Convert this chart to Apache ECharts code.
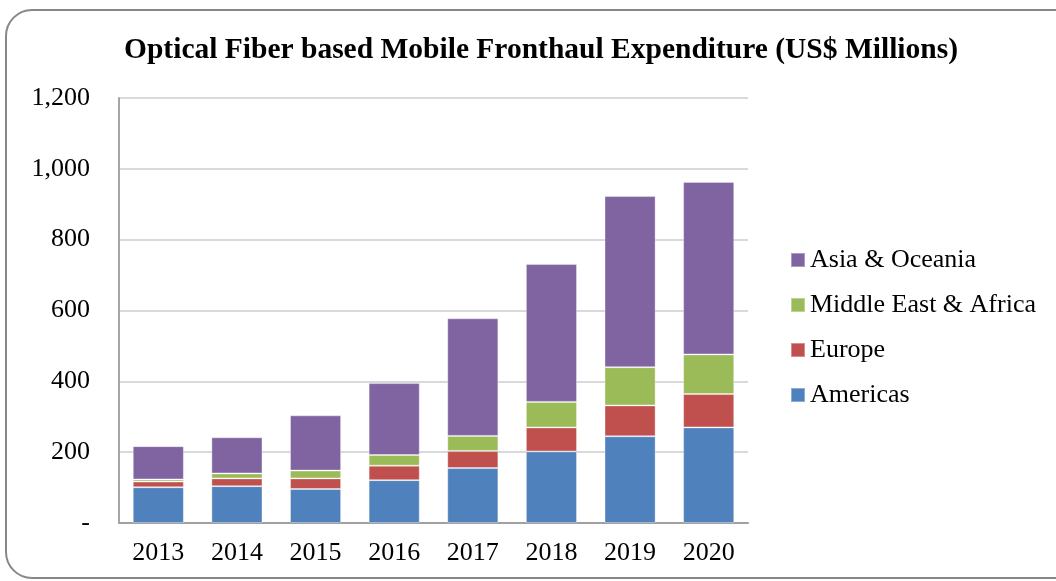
<!DOCTYPE html>
<html>
<head>
<meta charset="utf-8">
<script src="https://cdn.jsdelivr.net/npm/echarts@6/dist/echarts.min.js"></script>
<style>
  html, body { margin: 0; padding: 0; background: #fff; }
  #chart { width: 1056px; height: 581px; }
</style>
</head>
<body>
<div id="chart"></div>
<script>
const years = ['2013', '2014', '2015', '2016', '2017', '2018', '2019', '2020']
const americas = [101, 104, 96, 121, 155, 202, 245, 270]
const europe = [16, 22, 30, 41, 48, 68, 87, 94]
const middleEastAfrica = [6, 14, 22, 30, 43, 72, 108, 112]
const asiaOceania = [94, 102, 156, 203, 332, 389, 483, 487]

const font = '"Liberation Serif", "DejaVu Serif", serif'

const chart = echarts.init(document.getElementById('chart'))

const mkSeries = (name, data, color) => ({
  name,
  type: 'bar',
  stack: 'total',
  data,
  barCategoryGap: '35%',
  itemStyle: { color, borderColor: 'rgba(255,255,255,0.35)', borderWidth: 1 },
})

const option = {
  animation: false,
  graphic: [
    {
      type: 'rect',
      shape: { x: 6, y: 10, width: 1075, height: 568, r: 26 },
      style: { fill: 'none', stroke: '#878787', lineWidth: 2 },
    },
  ],
  title: {
    text: 'Optical Fiber based Mobile Fronthaul Expenditure (US$ Millions)',
    left: 536,
    textAlign: 'center',
    top: 30,
    textStyle: { fontFamily: font, fontSize: 29.5, fontWeight: 'bold', color: '#000' },
  },
  legend: {
    orient: 'vertical',
    left: 785,
    top: 242,
    itemWidth: 14,
    itemHeight: 14,
    itemGap: 19,
    icon: 'rect',
    data: ['Asia & Oceania', 'Middle East & Africa', 'Europe', 'Americas'],
    textStyle: { fontFamily: font, fontSize: 26, lineHeight: 26, color: '#000' },
  },
  grid: { left: 119, right: 308, top: 98, bottom: 58 },
  xAxis: {
    type: 'category',
    data: years,
    axisLine: { lineStyle: { color: '#a0a0a0', width: 2 } },
    axisTick: { show: false },
    axisLabel: { fontFamily: font, fontSize: 26, color: '#000', margin: 17 },
  },
  yAxis: {
    type: 'value',
    min: 0,
    max: 1200,
    interval: 200,
    axisLine: { show: true, lineStyle: { color: '#a6a6a6', width: 2 } },
    axisTick: { show: false },
    splitLine: { lineStyle: { color: '#d9d9d9', width: 2 } },
    axisLabel: {
      fontFamily: font,
      fontSize: 26,
      color: '#000',
      margin: 29,
      formatter: v => (v === 0 ? '-' : v.toLocaleString('en-US')),
    },
  },
  series: [
    mkSeries('Americas', americas, '#4f81bd'),
    mkSeries('Europe', europe, '#c0504d'),
    mkSeries('Middle East & Africa', middleEastAfrica, '#9bbb59'),
    mkSeries('Asia & Oceania', asiaOceania, '#8064a2'),
  ],
}

chart.setOption(option)
</script>
</body>
</html>
